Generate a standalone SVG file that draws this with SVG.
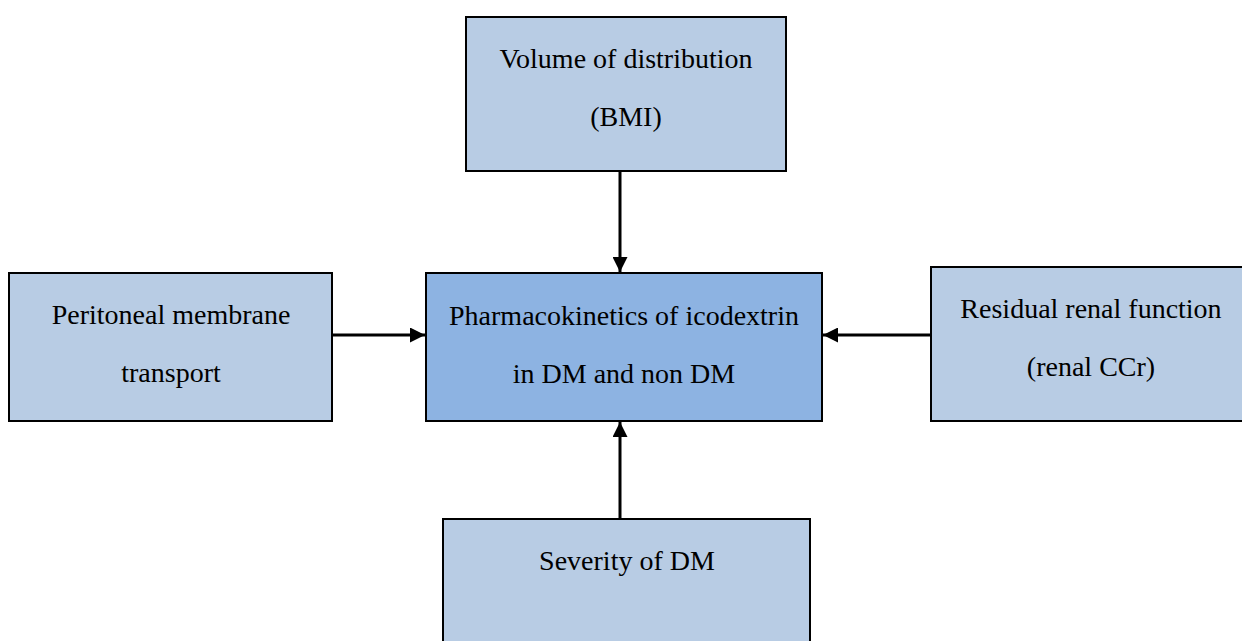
<svg xmlns="http://www.w3.org/2000/svg" width="1242" height="641" viewBox="0 0 1242 641">
<style>
.box{fill:#B8CCE4;stroke:#000;stroke-width:2}
.main{fill:#8DB3E2;stroke:#000;stroke-width:2}
text{font-family:"Liberation Serif","Times New Roman",serif;font-size:28px;fill:#000;text-anchor:middle}
.conn{stroke:#000;stroke-width:3;fill:none;marker-end:url(#ah)}
</style>
<defs>
<marker id="ah" markerWidth="5" markerHeight="5" refX="5" refY="2.5" orient="auto" markerUnits="strokeWidth">
<path d="M0,0 L5,2.5 L0,5 Z" fill="#000"/>
</marker>
</defs>
<rect width="1242" height="641" fill="#fff"/>
<g id="connectors">
<line class="conn" x1="620" y1="172" x2="620" y2="272"/>
<line class="conn" x1="333" y1="335" x2="425" y2="335"/>
<line class="conn" x1="930" y1="335" x2="823" y2="335"/>
<line class="conn" x1="620" y1="518" x2="620" y2="422"/>
</g>
<g id="node-volume">
<rect class="box" x="466" y="17" width="320" height="154"/>
<text x="626" y="68">Volume of distribution</text>
<text x="626" y="126">(BMI)</text>
</g>
<g id="node-pk">
<rect class="main" x="426" y="273" width="396" height="148"/>
<text x="624" y="325">Pharmacokinetics of icodextrin</text>
<text x="624" y="383">in DM and non DM</text>
</g>
<g id="node-peritoneal">
<rect class="box" x="9" y="273" width="323" height="148"/>
<text x="171" y="324">Peritoneal membrane</text>
<text x="171" y="382">transport</text>
</g>
<g id="node-renal">
<rect class="box" x="931" y="267" width="315" height="154"/>
<text x="1091" y="318">Residual renal function</text>
<text x="1091" y="376">(renal CCr)</text>
</g>
<g id="node-severity">
<rect class="box" x="443" y="519" width="367" height="130"/>
<text x="627" y="570">Severity of DM</text>
</g>
</svg>
